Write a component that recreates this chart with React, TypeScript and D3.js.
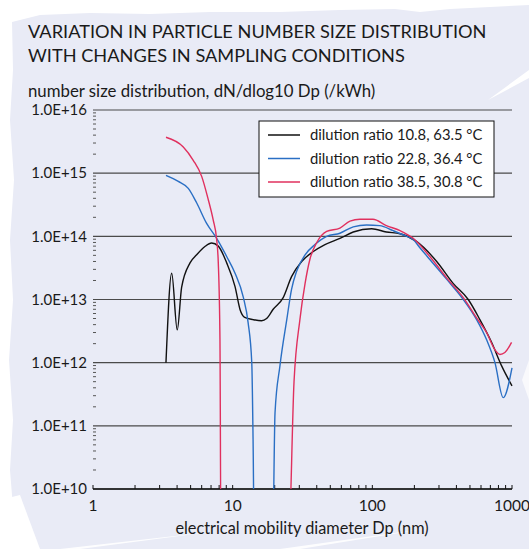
import * as d3 from "d3";

// Dp (nm) and dN/dlog10 Dp (/kWh)
const blackDp = [3.33, 3.66, 4.01, 4.31, 4.95, 5.52, 6.33, 7.07, 7.89, 9.06, 10.4, 11.3, 12.2, 14.0, 16.1, 17.5, 19.5, 23.0, 26.4, 31.2, 37.8, 45.8, 58.6, 73, 98.9, 126, 158, 207, 289, 379, 486, 589, 714, 843, 1000];
const blackN = [1e12, 2.6e13, 3.3e12, 1.55e13, 3.8e13, 5.1e13, 6.9e13, 7.85e13, 7.0e13, 3.8e13, 1.6e13, 6.9e12, 5.2e12, 4.8e12, 4.6e12, 5.0e12, 7.0e12, 1.07e13, 2.3e13, 4.0e13, 5.75e13, 7.4e13, 9.3e13, 1.17e14, 1.32e14, 1.17e14, 1.1e14, 8.3e13, 4.0e13, 1.8e13, 1.0e13, 4.8e12, 2.1e12, 8.9e11, 4.3e11];

const blueDp = [3.33, 4.08, 4.81, 5.52, 6.51, 7.68, 9.06, 10.4, 11.9, 12.9, 13.7, 14.0, 14.3, 19.3, 20.1, 21.8, 24.4, 26.4, 28.7, 33.0, 38.8, 47.1, 58.6, 73, 91, 113, 141, 176, 196, 219, 258, 340, 448, 558, 658, 755, 865, 1000];
const blueN = [9.2e14, 7.4e14, 5.75e14, 3.4e14, 1.6e14, 9.3e13, 4.8e13, 2.6e13, 1.1e13, 4.3e12, 1.0e12, 6e10, 1e9, 1e9, 1.6e11, 8.9e11, 4.8e12, 1.45e13, 2.8e13, 5.1e13, 7.4e13, 1.0e14, 1.12e14, 1.41e14, 1.51e14, 1.48e14, 1.23e14, 1.0e14, 8.9e13, 6.6e13, 4.3e13, 2.1e13, 1.0e13, 4.8e12, 2.3e12, 1.0e12, 2.8e11, 8.3e11];

const redDp = [3.33, 4.43, 5.22, 6.0, 6.69, 7.26, 7.68, 7.89, 8.11, 8.25, 25.0, 27.5, 30.3, 33.0, 35.7, 39.9, 47.1, 58.6, 69.2, 81.5, 101, 126, 158, 196, 258, 340, 448, 558, 658, 755, 820, 889, 993];
const redN = [3.7e15, 2.6e15, 1.6e15, 8.9e14, 3.8e14, 1.8e14, 8.9e13, 3.8e13, 2.3e12, 1e9, 1e9, 5e11, 4.8e12, 1.8e13, 4.3e13, 7.9e13, 1.2e14, 1.35e14, 1.74e14, 1.86e14, 1.86e14, 1.48e14, 1.23e14, 9.3e13, 4.8e13, 2.2e13, 1.07e13, 5.1e12, 3.0e12, 1.6e12, 1.35e12, 1.45e12, 2.1e12];

const seriesNames = ["dilution ratio 10.8, 63.5 °C", "dilution ratio 22.8, 36.4 °C", "dilution ratio 38.5, 30.8 °C"];
const seriesColors = ["#111111", "#2a6fc4", "#e0305e"];
const yTickLabels = ["1.0E+10", "1.0E+11", "1.0E+12", "1.0E+13", "1.0E+14", "1.0E+15", "1.0E+16"];
const xTickLabels = ["1", "10", "100", "1000"];

const FONT = "Lato, 'Open Sans', sans-serif";

export default function App() {
  const width = 529, height = 549;
  const left = 93, right = 512, top = 110, bottom = 489;

  const x = d3.scaleLog().domain([1, 1000]).range([left, right]);
  const y = d3.scaleLog().domain([1e10, 1e16]).range([bottom, top]);

  const line = d3
    .line<[number, number]>()
    .x((d) => x(d[0]))
    .y((d) => y(d[1]))
    .curve(d3.curveMonotoneX);

  const series = [
    blackDp.map((d, i) => [d, blackN[i]] as [number, number]),
    blueDp.map((d, i) => [d, blueN[i]] as [number, number]),
    redDp.map((d, i) => [d, redN[i]] as [number, number]),
  ];

  const majorY = d3.range(10, 17).map((e) => Math.pow(10, e));
  const minorY: number[] = [];
  for (let e = 10; e < 16; e++) for (let m = 2; m <= 9; m++) minorY.push(m * Math.pow(10, e));
  const xTicks: number[] = [];
  for (let e = 0; e < 3; e++) for (let m = 1; m <= 9; m++) xTicks.push(m * Math.pow(10, e));
  xTicks.push(1000);

  // torn-paper background
  const paper =
    "M12,22 L40,15 L90,13 L150,14 L210,12 L280,12 L340,10 L395,9 L420,12 L450,9 L490,7 L529,5 " +
    "L529,549 L20,549 L14,520 L10,470 L13,420 L9,360 L13,300 L10,240 L14,180 L10,120 L13,70 Z";

  return (
    <svg width={width} height={height} style={{ display: "block", position: "absolute", left: 0, top: 0 }}>
      <rect width={width} height={height} fill="#ffffff" />
      <path d={paper} fill="#e9ebf6" />
      <path d="M0,500 L20,495 L40,549 L0,549 Z" fill="#ffffff" />
      <path d="M60,549 L210,532 L80,549 Z" fill="#ffffff" opacity={0.9} />
      <path d="M280,549 L430,528 L300,549 Z" fill="#ffffff" opacity={0.9} />
      <path d="M488,100 L529,70 L529,78 Z" fill="#ffffff" />
      <path d="M522,380 L529,360 L529,400 Z" fill="#ffffff" opacity={0.7} />

      <g fontFamily={FONT} fill="#1a1a1a">
        <text x={28} y={38} fontSize={18.2}>VARIATION IN PARTICLE NUMBER SIZE DISTRIBUTION</text>
        <text x={28} y={62} fontSize={18.2}>WITH CHANGES IN SAMPLING CONDITIONS</text>
        <text x={28} y={97} fontSize={16.8}>number size distribution, dN/dlog10 Dp (/kWh)</text>
      </g>

      {/* gridlines */}
      {majorY.map((v) => (
        <line key={"g" + v} x1={left} x2={right} y1={y(v)} y2={y(v)} stroke="#4a4a4a" strokeWidth={1.2} />
      ))}
      {minorY.map((v) => (
        <line key={"m" + v} x1={left} x2={left + 3} y1={y(v)} y2={y(v)} stroke="#555" strokeWidth={1} />
      ))}
      {majorY.map((v, i) => (
        <text key={"yl" + v} x={87} y={y(v)} dy="0.35em" textAnchor="end" fontFamily={FONT} fontSize={15} fill="#1a1a1a">
          {yTickLabels[i]}
        </text>
      ))}

      {/* x axis */}
      <line x1={left} x2={right} y1={bottom} y2={bottom} stroke="#111" strokeWidth={1.3} />
      {xTicks.map((v) => (
        <line key={"xt" + v} x1={x(v)} x2={x(v)} y1={bottom} y2={bottom - 4} stroke="#111" strokeWidth={1} />
      ))}
      {[1, 10, 100, 1000].map((v, i) => (
        <text key={"xl" + v} x={x(v)} y={511} textAnchor="middle" fontFamily={FONT} fontSize={15.5} fill="#1a1a1a">
          {xTickLabels[i]}
        </text>
      ))}
      <text x={302} y={534} textAnchor="middle" fontFamily={FONT} fontSize={16.3} fill="#1a1a1a">
        electrical mobility diameter Dp (nm)
      </text>

      <defs>
        <clipPath id="plotClip">
          <rect x={left} y={top - 40} width={right - left + 10} height={bottom - top + 40} />
        </clipPath>
      </defs>
      <g clipPath="url(#plotClip)">
        {series.map((s, i) => (
          <path key={"s" + i} d={line(s) || ""} fill="none" stroke={seriesColors[i]} strokeWidth={1.4} strokeLinejoin="round" />
        ))}
      </g>

      {/* legend */}
      <rect x={259} y={121} width={235} height={76} fill="#ffffff" stroke="#111" strokeWidth={1} />
      {seriesNames.map((n, i) => (
        <g key={"lg" + i}>
          <line x1={268} x2={300} y1={135 + i * 23.5} y2={135 + i * 23.5} stroke={seriesColors[i]} strokeWidth={1.5} />
          <text x={310} y={135 + i * 23.5} dy="0.35em" fontFamily={FONT} fontSize={14.8} fill="#1a1a1a">
            {n}
          </text>
        </g>
      ))}
    </svg>
  );
}
